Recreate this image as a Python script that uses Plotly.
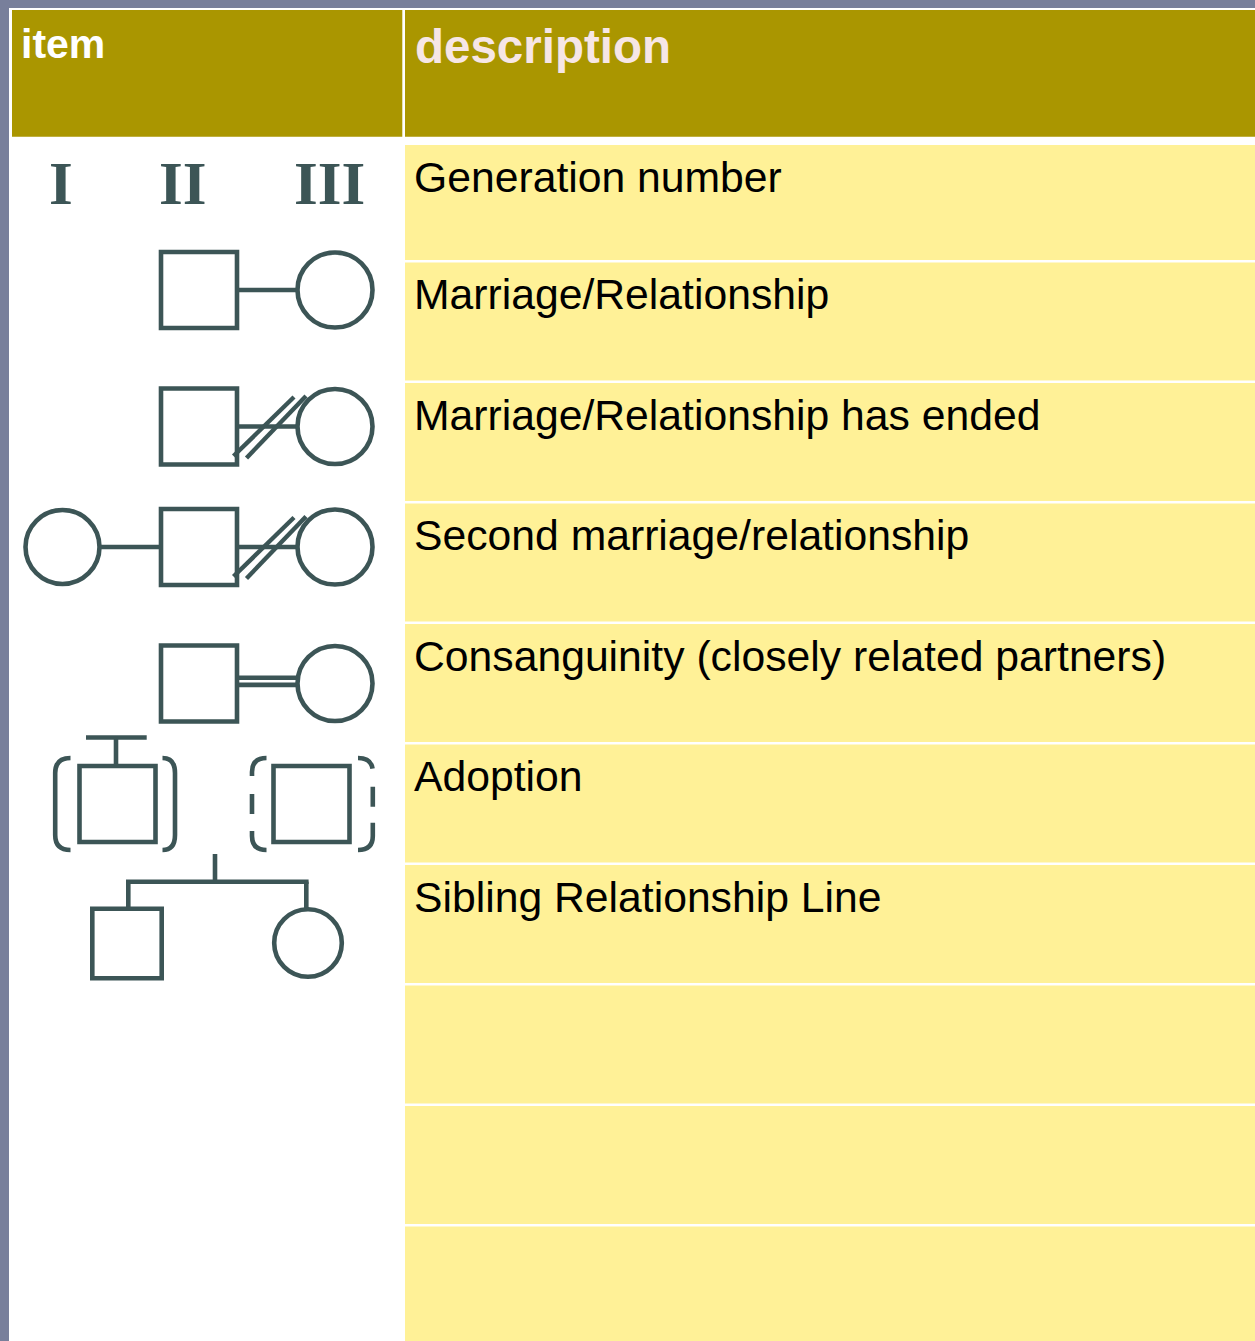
import plotly.graph_objects as go

# ---------------- data ----------------
header_labels = ["item", "description"]
descriptions = [
    "Generation number",
    "Marriage/Relationship",
    "Marriage/Relationship has ended",
    "Second marriage/relationship",
    "Consanguinity (closely related partners)",
    "Adoption",
    "Sibling Relationship Line",
    "",
    "",
    "",
]
generation_numerals = ["I", "II", "III"]

# ---------------- styles ----------------
W, H = 1255, 1341
FRAME = "#787f9b"
OLIVE = "#aa9600"
YELLOW = "#fff197"
INK = "#3c5556"
LW = 4.6

shapes = []


def rect(x0, y0, x1, y1, fill, layer="above"):
    shapes.append(dict(type="rect", xref="x", yref="y", x0=x0, y0=y0, x1=x1, y1=y1,
                       fillcolor=fill, line=dict(width=0), layer=layer))


def square(cx, cy, half, dash=None):
    shapes.append(dict(type="rect", xref="x", yref="y", x0=cx - half, x1=cx + half,
                       y0=cy - half, y1=cy + half, fillcolor="rgba(0,0,0,0)",
                       line=dict(color=INK, width=LW, dash=dash)))


def circle(cx, cy, r):
    shapes.append(dict(type="circle", xref="x", yref="y", x0=cx - r, x1=cx + r,
                       y0=cy - r, y1=cy + r, fillcolor="rgba(0,0,0,0)",
                       line=dict(color=INK, width=LW)))


def seg(x0, y0, x1, y1, w=LW):
    shapes.append(dict(type="line", xref="x", yref="y", x0=x0, y0=y0, x1=x1, y1=y1,
                       line=dict(color=INK, width=w)))


def path(d, dash=None):
    shapes.append(dict(type="path", xref="x", yref="y", path=d,
                       fillcolor="rgba(0,0,0,0)", line=dict(color=INK, width=LW, dash=dash)))


# ---------------- table background ----------------
rect(9, 8, W, H, "white")
rect(12, 10, 402.3, 136.8, OLIVE)
rect(405, 10, W, 136.8, OLIVE)

row_h = 120.5
first_top = 145
sep0 = 261.2
row_tops = [first_top] + [sep0 + row_h * k + 1.2 for k in range(len(descriptions) - 1)]
row_bots = [sep0 + row_h * k - 1.2 for k in range(len(descriptions) - 1)] + [H]
for t, b in zip(row_tops, row_bots):
    rect(405, t, W, b, YELLOW)

# ---------------- pedigree symbols ----------------
S = 38.0  # half size of square
R = 37.5  # circle radius

# Marriage / relationship
cy = 290
square(199, cy, S)
seg(239, cy, 297, cy)
circle(335, cy, R)

# Relationship ended
for cy in (426.5, 547):
    square(199, cy, S)
    seg(239, cy, 297, cy)
    circle(335, cy, R)
    seg(233.5, cy + 29.5, 294, cy - 29.5, 4.4)
    seg(246.5, cy + 31.5, 306, cy - 30.5, 4.4)
# second relationship partner
circle(62.5, 547, 37)
seg(100, 547, 161, 547)

# Consanguinity
cy = 683.5
square(199, cy, S)
seg(239, cy - 5.8, 297, cy - 5.8, 4.6)
seg(239, cy + 1.4, 297, cy + 1.4, 4.6)
circle(335, cy, R)

# Adoption (into family)
seg(86, 737.5, 146.7, 737.5)
seg(116, 737.5, 116, 766)
square(117.5, 804, 38)
path("M 70.5 758 Q 55.2 758 55.2 773 L 55.2 835 Q 55.2 850 70.5 850")
path("M 162.5 758 Q 175 758 175 773 L 175 835 Q 175 850 162.5 850")
# Adoption (out of family)
square(311.5, 804, 38)
path("M 266.5 758 Q 252 758 252 772 L 252 836 Q 252 850 266.5 850",
     dash="27px,18px,20px,17px,60px")
path("M 358 758 Q 372.8 758 372.8 772 L 372.8 836 Q 372.8 850 358 850",
     dash="20px,18px,20px,16px,60px")

# Sibling line
seg(215, 854, 215, 881.7)
seg(126, 881.7, 308.6, 881.7)
seg(128.3, 881.7, 128.3, 909)
seg(306.3, 881.7, 306.3, 909)
square(127, 943.5, 34.7)
circle(308, 943, 33.8)

# ---------------- text ----------------
annotations = [
    dict(x=18.5, y=44, text="<b>" + header_labels[0] + "</b>", xanchor="left", yanchor="middle",
         font=dict(family="Liberation Sans, Arial", size=41, color="white"), showarrow=False),
    dict(x=412.5, y=46.5, text="<b>" + header_labels[1] + "</b>", xanchor="left", yanchor="middle",
         font=dict(family="Liberation Sans, Arial", size=47.5, color="#f6e6e6"), showarrow=False),
]

for t, txt in zip(row_tops, descriptions):
    if txt:
        annotations.append(dict(x=412, y=t + 32, text=txt, xanchor="left", yanchor="middle",
                                font=dict(family="Liberation Sans, Arial", size=42.7, color="black"),
                                showarrow=False))

for xc, num in zip((60.5, 182.5, 329), generation_numerals):
    annotations.append(dict(x=xc, y=183.5, text="<b>" + num + "</b>", xanchor="center",
                            yanchor="middle",
                            font=dict(family="Liberation Serif, Times New Roman", size=61, color=INK),
                            showarrow=False))

fig = go.Figure()
fig.update_layout(
    width=W, height=H,
    margin=dict(l=0, r=0, t=0, b=0),
    paper_bgcolor=FRAME, plot_bgcolor=FRAME,
    xaxis=dict(range=[0, W], visible=False, fixedrange=True),
    yaxis=dict(range=[H, 0], visible=False, fixedrange=True),
    shapes=shapes,
    annotations=annotations,
    showlegend=False,
)
fig.write_html("out.html", config={"displayModeBar": False, "staticPlot": True},
               post_script="document.body.style.margin='0';document.body.style.overflow='hidden';"
                           "document.documentElement.style.background='" + FRAME + "';")
